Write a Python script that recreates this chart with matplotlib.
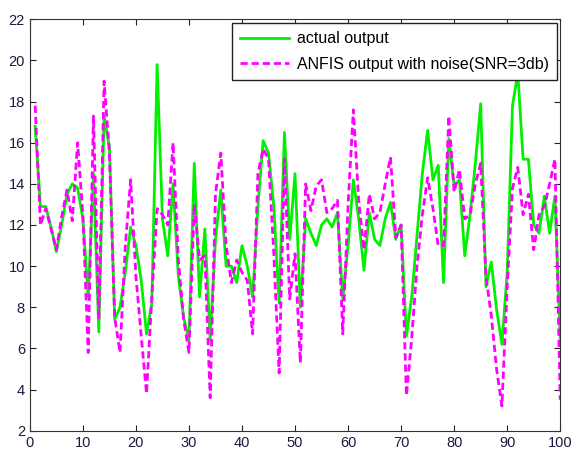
import matplotlib.pyplot as plt
import numpy as np

plt.rcParams['font.family'] = ['Liberation Sans', 'DejaVu Sans']

# sample index
x = np.arange(1, 101)

actual_output = [16.8, 12.9, 12.9, 11.9, 10.7, 12.0, 13.5, 14.0, 13.8, 12.3,
                 8.5, 14.5, 6.8, 17.3, 15.8, 7.4, 8.0, 9.7, 11.9, 11.0,
                 9.3, 6.7, 8.2, 19.8, 12.3, 10.5, 14.0, 9.5, 7.5, 6.4,
                 15.0, 8.5, 11.8, 6.4, 11.3, 13.7, 10.0, 10.0, 9.2, 11.0,
                 10.0, 8.5, 12.9, 16.1, 15.5, 12.9, 8.2, 16.5, 11.3, 14.5,
                 8.0, 12.3, 11.6, 11.0, 12.0, 12.3, 11.9, 12.6, 8.4, 11.0,
                 14.2, 12.3, 9.8, 12.6, 11.3, 11.0, 12.3, 13.1, 11.3, 12.0,
                 6.6, 8.5, 11.5, 14.5, 16.6, 14.2, 14.9, 9.2, 16.2, 13.9,
                 14.2, 10.5, 12.5, 15.0, 17.9, 9.0, 10.2, 7.9, 6.2, 9.7,
                 17.8, 19.4, 15.2, 15.2, 12.0, 11.6, 13.4, 11.6, 13.4, 6.5]

anfis_noise = [17.8, 12.0, 12.8, 11.8, 10.8, 12.4, 13.7, 12.2, 16.0, 12.5,
               5.8, 17.3, 7.4, 19.0, 15.5, 7.5, 5.8, 11.0, 14.2, 9.5,
               6.6, 3.8, 8.5, 12.8, 12.5, 12.0, 16.0, 10.3, 7.4, 5.8,
               13.0, 10.3, 10.5, 3.6, 13.5, 15.5, 11.0, 9.2, 10.3, 9.7,
               9.3, 6.7, 14.5, 15.7, 15.2, 10.6, 4.8, 15.2, 8.4, 10.6,
               5.3, 14.0, 12.7, 13.9, 14.2, 12.6, 12.8, 13.2, 6.7, 13.0,
               17.6, 13.2, 10.8, 13.5, 12.3, 12.6, 14.0, 15.3, 11.4, 12.0,
               3.7, 6.5, 10.0, 12.5, 14.3, 12.8, 11.0, 11.0, 17.3, 13.6,
               14.7, 12.3, 12.5, 14.0, 15.0, 9.5, 7.6, 5.0, 3.2, 9.0,
               13.8, 14.8, 12.5, 13.5, 10.8, 12.5, 12.9, 14.0, 15.2, 3.5]

fig = plt.figure(figsize=(5.74, 4.5), dpi=100)
ax = fig.add_axes([0.052, 0.043, 0.924, 0.914])

ax.plot(x, actual_output, color='#00f000', lw=2, label='actual output')
ax.plot(x, anfis_noise, color='#ff00ff', lw=2, ls=(0, (2.6, 1.4)),
        label='ANFIS output with noise(SNR=3db)')

ax.set_xlim(0, 100)
ax.set_ylim(2, 22)
ax.set_xticks(range(0, 101, 10))
ax.set_yticks(range(2, 23, 2))
ax.tick_params(direction='in', top=True, right=True, labelsize=10.5,
               length=4, colors='#222', labelcolor='#1a1a40')
for s in ax.spines.values():
    s.set_color('#333')

leg = ax.legend(loc='upper right', bbox_to_anchor=(0.994, 0.99),
                borderaxespad=0, fancybox=False, framealpha=1,
                edgecolor='#222', fontsize=11.5, handlelength=3.1,
                labelspacing=0.65, borderpad=0.5, handletextpad=0.5)
leg.get_frame().set_linewidth(1.0)

fig.savefig('out.png')
